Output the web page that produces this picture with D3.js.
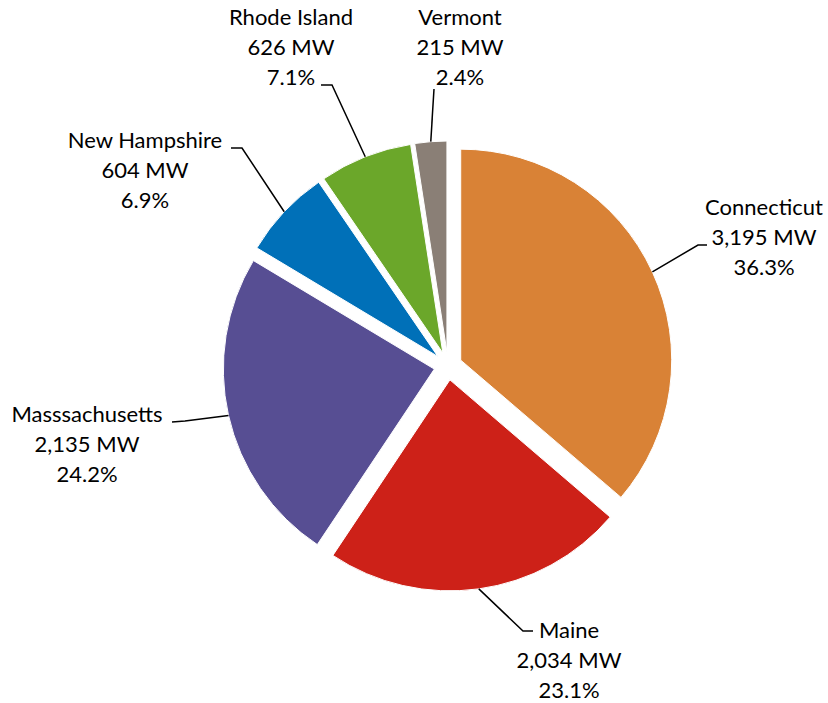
<!DOCTYPE html>
<html>
<head>
<meta charset="utf-8">
<script src="https://cdn.jsdelivr.net/npm/d3@7"></script>
<style>
  html, body { margin: 0; padding: 0; background: #fff; }
  svg { display: block; }
  text { font-family: Lato, "Open Sans", sans-serif; fill: #000; }
</style>
</head>
<body>
<svg id="chart" width="828" height="703"></svg>
<script>
// ---- data ----
const states = ["Connecticut", "Maine", "Masssachusetts", "New Hampshire", "Rhode Island", "Vermont"];
const megawatts = [3195, 2034, 2135, 604, 626, 215];
const sliceColors = ["#D98236", "#CD2118", "#574E93", "#0070B8", "#6BA72A", "#8A7F76"];

// ---- layout ----
const W = 828, H = 703;
const cx = 448, cy = 366, radius = 211, explode = 14;
const fontSize = 22, lineGap = 30;
// label text anchor (center x, first baseline y)
const labelPos = [[764, 215], [569, 638], [87, 422], [145, 148], [291, 25], [460, 25]];
// leader elbow and end point near the label
const leaderElbow = [[698, 245], [523, 631], [185, 421], [242, 148], [332, 85], [434, 89]];
const leaderEnd = [[707, 245], [533, 631], [172, 422], [231, 148], [321, 85], [434, 89]];

const svg = d3.select("#chart");
const total = d3.sum(megawatts);
const data = states.map((s, i) => ({ state: s, mw: megawatts[i], color: sliceColors[i], i }));

const pie = d3.pie().sort(null).value(d => d.mw);
const arcs = pie(data);
const arc = d3.arc().innerRadius(0).outerRadius(radius);

const g = svg.append("g").attr("transform", `translate(${cx},${cy})`);

function offset(a) {
  const m = (a.startAngle + a.endAngle) / 2;
  return [Math.sin(m) * explode, -Math.cos(m) * explode];
}

g.selectAll("path.slice")
  .data(arcs)
  .join("path")
  .attr("class", "slice")
  .attr("d", arc)
  .attr("fill", d => d.data.color)
  .attr("stroke", "#fff")
  .attr("stroke-width", 1)
  .attr("transform", d => { const o = offset(d); return `translate(${o[0]},${o[1]})`; });

// leader lines
const fmtMW = d3.format(",");
arcs.forEach((a, i) => {
  const o = offset(a);
  const m = (a.startAngle + a.endAngle) / 2;
  const sx = cx + o[0] + Math.sin(m) * radius;
  const sy = cy + o[1] - Math.cos(m) * radius;
  const pts = [[sx, sy], leaderElbow[i], leaderEnd[i]];
  svg.append("path")
    .attr("d", d3.line()(pts))
    .attr("fill", "none")
    .attr("stroke", "#000")
    .attr("stroke-width", 1.5);

  const lines = [a.data.state, fmtMW(a.data.mw) + " MW", (a.data.mw / total * 100).toFixed(1) + "%"];
  const t = svg.append("text")
    .attr("text-anchor", "middle")
    .attr("font-size", fontSize);
  lines.forEach((ln, k) => {
    t.append("tspan")
      .attr("x", labelPos[i][0])
      .attr("y", labelPos[i][1] + k * lineGap)
      .text(ln);
  });
});
</script>
</body>
</html>
